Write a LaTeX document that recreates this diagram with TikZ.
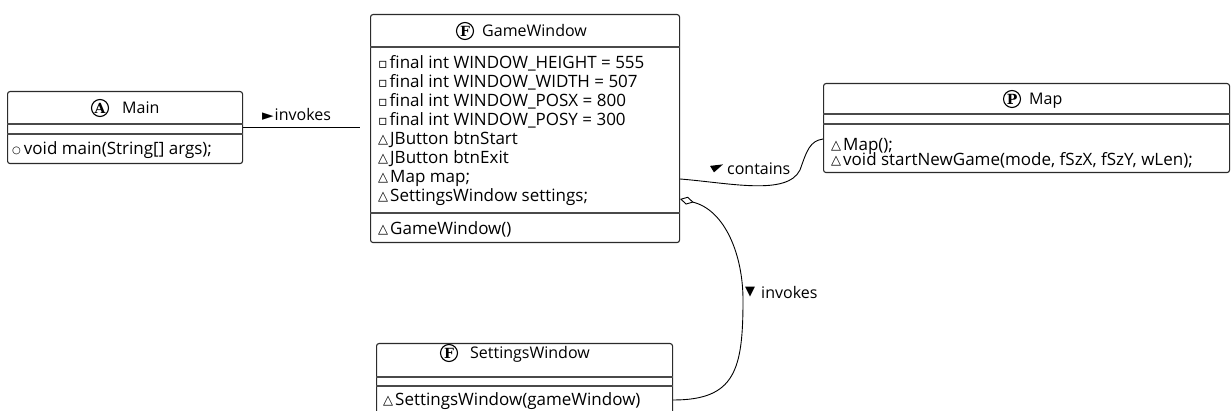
\documentclass[tikz,border=0pt]{standalone}
\usepackage{fontspec}
\setmainfont{Open Sans}
\newfontfamily\symfont{DejaVu Sans}
\newfontfamily\spotfont{DejaVu Serif}
\usetikzlibrary{arrows.meta,calc}

\definecolor{boxline}{HTML}{2B2B2B}
\definecolor{sepgray}{HTML}{4A4A4A}

% visibility marks for class members
\newcommand{\pubmark}{\raisebox{0.5pt}{\symfont\fontsize{10}{12}\selectfont ○}\hspace{3pt}}
\newcommand{\privmark}{{\symfont\fontsize{14}{12}\selectfont ▫}\hspace{2pt}}
\newcommand{\pkgmark}{\raisebox{0.8pt}{\symfont\fontsize{13}{12}\selectfont △}\hspace{2pt}}

\tikzset{
  x=1pt, y=-1pt,
  classbox/.style={draw=boxline, line width=1.1pt, rounded corners=2.5pt,
    fill=white, inner sep=0pt, anchor=north west},
  sepline/.style={draw=sepgray, line width=1.3pt},
  member/.style={anchor=mid west, inner sep=0pt, yshift=-2.5pt,
    font=\fontsize{17}{19}\selectfont},
  titletext/.style={anchor=mid west, inner sep=0pt, yshift=-2.5pt,
    font=\fontsize{16}{18}\selectfont},
  spot/.style={circle, draw=black, line width=1.1pt, inner sep=0pt,
    minimum size=17pt, font=\spotfont\bfseries\fontsize{14}{14}\selectfont},
  conn/.style={draw=black, line width=0.9pt},
  tag/.style={titletext},
}

\begin{document}
\begin{tikzpicture}
\useasboundingbox (0,0) rectangle (1231,411);
\clip (0,0) rectangle (1231,411);
\fill[white] (0,0) rectangle (1231,411);

% ---------- Main ----------
\node[classbox, minimum width=235pt, minimum height=72pt] (main) at (7,91) {};
\draw[sepline] (main.west |- 0,124) -- (main.east |- 0,124);
\draw[sepline] (main.west |- 0,134) -- (main.east |- 0,134);
\node[spot] (mainS) at (100,108) {A};
\node[titletext] (mainT) at (122,108) {Main};
\node[member] (mainM1) at (12,149) {\pubmark void main(String[] args);};

% ---------- GameWindow ----------
\node[classbox, minimum width=309pt, minimum height=228pt] (gw) at (370,14) {};
\draw[sepline] (gw.west |- 0,47) -- (gw.east |- 0,47);
\draw[sepline] (gw.west |- 0,213) -- (gw.east |- 0,213);
\node[spot] (gwS) at (465,31) {F};
\node[titletext] (gwT) at (482,31) {GameWindow};
\node[member] (gwA1) at (378,63)  {\privmark final int WINDOW\_HEIGHT = 555};
\node[member] (gwA2) at (378,82)  {\privmark final int WINDOW\_WIDTH = 507};
\node[member] (gwA3) at (378,101) {\privmark final int WINDOW\_POSX = 800};
\node[member] (gwA4) at (378,120) {\privmark final int WINDOW\_POSY = 300};
\node[member] (gwA5) at (378,139) {\pkgmark JButton btnStart};
\node[member] (gwA6) at (378,158) {\pkgmark JButton btnExit};
\node[member] (gwA7) at (378,177) {\pkgmark Map map;};
\node[member] (gwA8) at (378,196) {\pkgmark SettingsWindow settings;};
\node[member] (gwM1) at (378,229) {\pkgmark GameWindow()};

% ---------- Map ----------
\node[classbox, minimum width=406pt, minimum height=89pt] (map) at (823,83) {};
\draw[sepline] (map.west |- 0,114) -- (map.east |- 0,114);
\draw[sepline] (map.west |- 0,124) -- (map.east |- 0,124);
\node[spot] (mapS) at (1012,99) {P};
\node[titletext] (mapT) at (1029,99) {Map};
\node[member] (mapM1) at (831,145) {\pkgmark Map();};
\node[member] (mapM2) at (831,160) {\pkgmark void startNewGame(mode, fSzX, fSzY, wLen);};

% ---------- SettingsWindow ----------
\node[classbox, minimum width=296pt, minimum height=80pt] (sw) at (376,343) {};
\draw[sepline] (sw.west |- 0,377) -- (sw.east |- 0,377);
\draw[sepline] (sw.west |- 0,386) -- (sw.east |- 0,386);
\node[spot] (swS) at (449,353) {F};
\node[titletext] (swT) at (470,353) {SettingsWindow};
\node[member] (swM1) at (383,400) {\pkgmark SettingsWindow(gameWindow)};

% ---------- connectors ----------
\coordinate (mainE) at (main.east |- 0,127);
\coordinate (gwW)   at (gw.west |- 0,127);
\draw[conn, shorten >=10pt] (mainE) -- (gwW);
\node[tag] (lblInv1) at (262,115) {{\symfont\fontsize{15}{12}\selectfont ►}\hspace{1pt}invokes};

\coordinate (gwC)  at (gw.east |- 0,179);
\coordinate (mapC) at (map.west |- 0,139);
\draw[conn] (gwC) .. controls (730,183) and (787,196) .. (800,170)
               .. controls (807,150) and (810,141) .. (mapC);
\node[tag] (lblCon) at (727,169) {contains};
\fill ($(lblCon.west)+(-4,-4)$) -- ($(lblCon.west)+(-17,-2.5)$)
      -- ($(lblCon.west)+(-13,4)$) -- cycle;

\coordinate (gwD)  at (gw.east |- 0,199);
\coordinate (swE)  at (sw.east |- 0,400);
\draw[conn, {Diamond[open, length=14pt, width=8pt, line width=0.9pt]}-]
  (gwD) .. controls (725,210) and (743,255) .. (743,300)
        .. controls (743,370) and (735,400) .. (swE);
\node[inner sep=0pt, font=\symfont\fontsize{13}{12}\selectfont] (triI) at (750,292) {▼};
\node[tag] (lblInv2) at (761,293) {invokes};
\end{tikzpicture}
\end{document}
